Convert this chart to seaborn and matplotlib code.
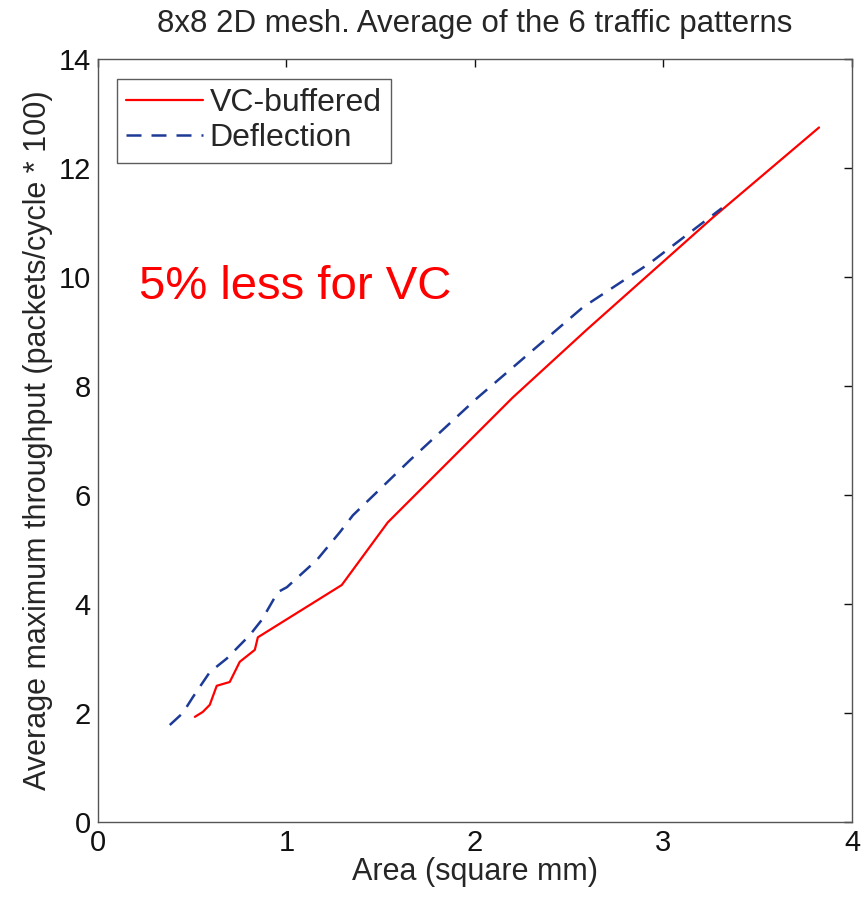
import matplotlib
matplotlib.use('Agg')
import matplotlib.pyplot as plt
import seaborn as sns

# Values.
vc_area = [0.515, 0.557, 0.594, 0.631, 0.70, 0.753, 0.833, 0.849, 1.294,
           1.538, 2.20, 2.594, 3.263, 3.825]
vc_tput = [1.93, 2.02, 2.15, 2.50, 2.57, 2.94, 3.16, 3.39, 4.35,
           5.50, 7.79, 9.04, 11.10, 12.75]

defl_area = [0.382, 0.451, 0.504, 0.594, 0.684, 0.806, 0.870, 0.955, 1.003,
             1.162, 1.284, 1.353, 1.655, 2.011, 2.573, 2.928, 3.310]
defl_tput = [1.78, 2.00, 2.29, 2.75, 3.00, 3.43, 3.71, 4.22, 4.31,
             4.81, 5.32, 5.63, 6.64, 7.78, 9.45, 10.26, 11.27]

x_ticks = [0, 1, 2, 3, 4]
y_ticks = [0, 2, 4, 6, 8, 10, 12, 14]

sns.set_style('white')
plt.rcParams['font.family'] = ['Liberation Sans', 'DejaVu Sans']

fig = plt.figure(figsize=(8.65, 9), dpi=100)
ax = fig.add_axes([0.113, 0.0867, 0.872, 0.8473])

sns.lineplot(x=vc_area, y=vc_tput, sort=False, color='#ff0000', lw=1.6,
             label='VC-buffered', ax=ax)
sns.lineplot(x=defl_area, y=defl_tput, sort=False, color='#1c3a96', lw=1.8,
             ls=(0, (6, 4)), label='Deflection', ax=ax)

ax.set_xlim(0, 4)
ax.set_ylim(0, 14)
ax.set_xticks(x_ticks)
ax.set_yticks(y_ticks)
ax.tick_params(direction='in', top=True, right=True, length=6, width=1,
               labelsize=21, colors='#111111', pad=5)
for s in ax.spines.values():
    s.set_visible(True)
    s.set_color('#555555')
    s.set_linewidth(1)

ax.set_xlabel('Area (square mm)', fontsize=22, labelpad=0)
ax.set_ylabel('Average maximum throughput (packets/cycle * 100)', fontsize=22,
              labelpad=4)
ax.set_title('8x8 2D mesh. Average of the 6 traffic patterns', fontsize=22.5,
             pad=20)

ax.text(0.22, 9.6, '5% less for VC', color='#ff0000', fontsize=34)

leg = ax.legend(loc='upper left', fontsize=23, frameon=True, fancybox=False,
                borderpad=0.3, handlelength=2.4, handletextpad=0.2,
                labelspacing=0.15, borderaxespad=0.6)
leg.get_frame().set_edgecolor('#333333')
leg.get_frame().set_linewidth(1)

fig.savefig('out.png', dpi=100, facecolor='white')
